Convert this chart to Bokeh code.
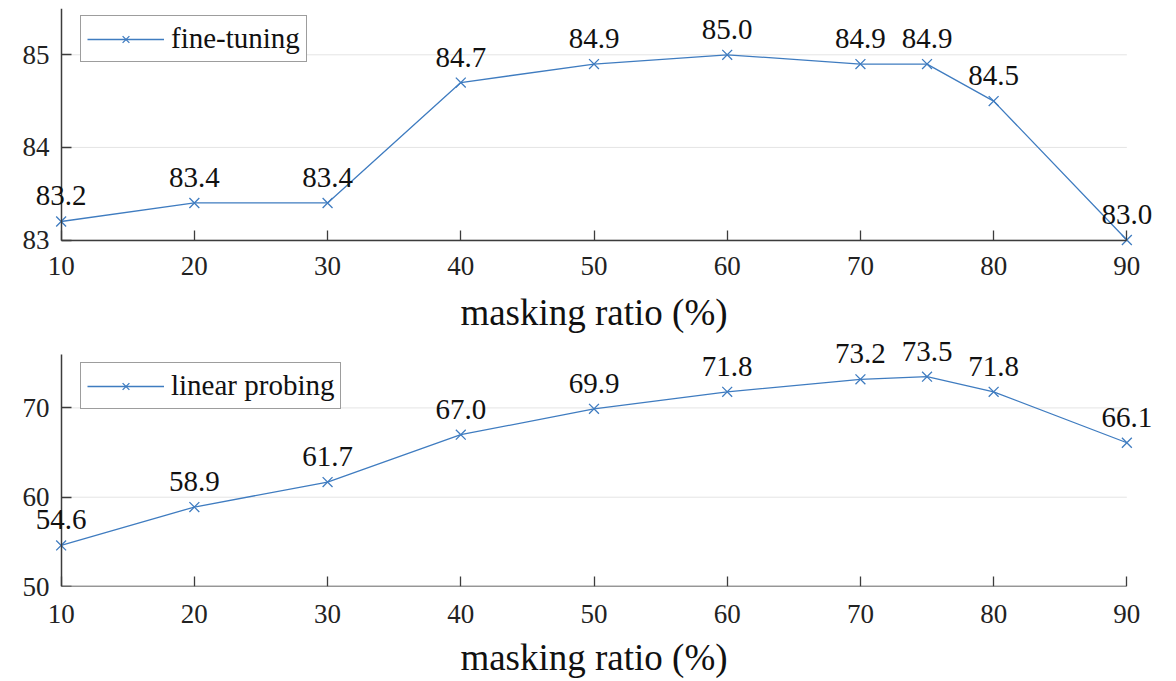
from bokeh.plotting import figure
from bokeh.layouts import column
from bokeh.models import ColumnDataSource, LabelSet, FixedTicker, Range1d, LinearAxis
from bokeh.embed import file_html
from bokeh.resources import INLINE

masking_ratio = [10, 20, 30, 40, 50, 60, 70, 75, 80, 90]
fine_tuning = [83.2, 83.4, 83.4, 84.7, 84.9, 85.0, 84.9, 84.9, 84.5, 83.0]
linear_probing = [54.6, 58.9, 61.7, 67.0, 69.9, 71.8, 73.2, 73.5, 71.8, 66.1]
x_ticks = [10, 20, 30, 40, 50, 60, 70, 80, 90]
ft_ticks = [83, 84, 85]
lp_ticks = [50, 60, 70]
ft_bounds = (83, 85.5)
lp_bounds = (50, 76)

FONT = "Liberation Serif"
BLUE = "#3f7cc0"
AXIS = "#3c3c3c"


def line_axis(loc, bounds, ticks):
    # axis line + inward ticks drawn at a data position; no labels
    ax = LinearAxis(fixed_location=loc, bounds=bounds, ticker=FixedTicker(ticks=ticks))
    ax.axis_line_color = AXIS
    ax.axis_line_width = 1.5
    ax.major_tick_line_color = AXIS
    ax.major_tick_line_width = 1.3
    ax.major_tick_in = 10
    ax.major_tick_out = 0
    ax.minor_tick_line_color = None
    ax.major_label_text_color = None
    return ax


def label_axis(ticks, standoff):
    # tick labels only, placed in the side panel
    ax = LinearAxis(ticker=FixedTicker(ticks=ticks))
    ax.axis_line_color = None
    ax.major_tick_line_color = None
    ax.minor_tick_line_color = None
    ax.major_tick_in = 0
    ax.major_tick_out = 0
    ax.major_label_text_font = FONT
    ax.major_label_text_font_size = "27px"
    ax.major_label_text_color = "#222222"
    ax.major_label_standoff = standoff
    return ax


def make_panel(values, yticks, ybounds, yr, name, fheight, top_border, bottom_border,
               legend_xy, xlab_standoff, title_standoff):
    p = figure(frame_width=1119, frame_height=fheight, output_backend="svg",
               toolbar_location=None, x_axis_location=None, y_axis_location=None,
               x_range=Range1d(8, 92), y_range=Range1d(*yr),
               min_border_left=34, min_border_right=15,
               min_border_top=top_border, min_border_bottom=bottom_border)
    p.outline_line_color = None
    p.xgrid.grid_line_color = None
    p.ygrid.grid_line_color = None

    # horizontal grid lines between the axis ends
    p.segment(x0=[x_ticks[0]] * len(yticks), x1=[x_ticks[-1]] * len(yticks),
              y0=yticks, y1=yticks, line_color="#e4e4e4", line_width=1)

    src = ColumnDataSource(dict(x=masking_ratio, y=values,
                                t=["%.1f" % v for v in values]))
    p.line("x", "y", source=src, line_color=BLUE, line_width=1.3, legend_label=name)
    p.scatter("x", "y", source=src, marker="x", size=14, line_color=BLUE,
              line_width=1.3, legend_label=name)
    p.add_layout(LabelSet(x="x", y="y", text="t", source=src, y_offset=16,
                          text_align="center", text_baseline="alphabetic",
                          text_font=FONT, text_font_size="29px",
                          text_color="#111111", level="overlay"))

    p.add_layout(line_axis(ybounds[0], (x_ticks[0], x_ticks[-1]), x_ticks), "below")
    p.add_layout(line_axis(x_ticks[0], ybounds, yticks), "left")

    xl = label_axis(x_ticks, xlab_standoff)
    xl.axis_label = "masking ratio (%)"
    xl.axis_label_text_font = FONT
    xl.axis_label_text_font_size = "37px"
    xl.axis_label_text_font_style = "normal"
    xl.axis_label_text_color = "#111111"
    xl.axis_label_standoff = title_standoff
    p.add_layout(xl, "below")
    p.add_layout(label_axis(yticks, -15), "left")

    lg = p.legend[0]
    lg.location = legend_xy
    lg.label_text_font = FONT
    lg.label_text_font_size = "29px"
    lg.label_text_color = "#111111"
    lg.glyph_width = 77
    lg.glyph_height = 24
    lg.label_height = 24
    lg.label_standoff = 7
    lg.padding = 6
    lg.border_line_color = AXIS
    lg.border_line_width = 1.3
    lg.background_fill_alpha = 1
    return p


p1 = make_panel(fine_tuning, ft_ticks, ft_bounds, (82.93, 85.5), "fine-tuning",
                238, 8, 90, (46, 184), 10, 14)
p2 = make_panel(linear_probing, lp_ticks, lp_bounds, (50, 78.0), "linear probing",
                250, 0, 95, (46, 177), 18, 11)

layout = column(p1, p2, spacing=0)
open("out.html", "w").write(file_html(layout, INLINE))
